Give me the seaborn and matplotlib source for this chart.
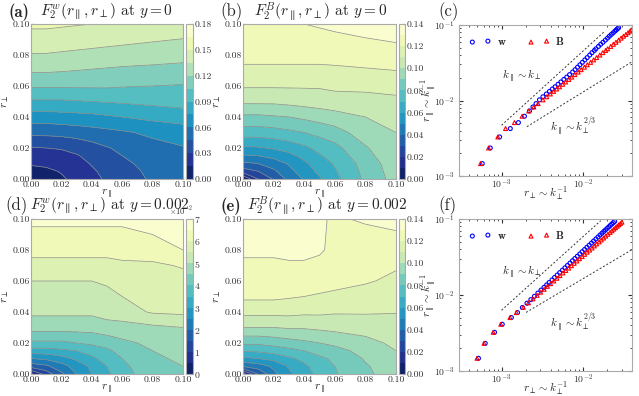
import numpy as np
import pandas as pd
import seaborn as sns
import matplotlib
matplotlib.use('Agg')
import matplotlib.pyplot as plt
from matplotlib.ticker import ScalarFormatter, FormatStrFormatter

r_par = [0.0, 0.01, 0.02, 0.03, 0.04, 0.05, 0.06, 0.08, 0.10]
r_perp = [0.0, 0.005, 0.01, 0.015, 0.02, 0.03, 0.04, 0.05, 0.06, 0.07, 0.08, 0.10]

# (a) F2^w at y=0  (rows = r_perp, cols = r_par)
F_w0 = [
    [0.003, 0.008, 0.013, 0.019, 0.026, 0.032, 0.038, 0.047, 0.052],
    [0.009, 0.012, 0.016, 0.022, 0.028, 0.034, 0.040, 0.048, 0.053],
    [0.017, 0.018, 0.021, 0.025, 0.031, 0.037, 0.042, 0.050, 0.055],
    [0.023, 0.024, 0.026, 0.029, 0.034, 0.040, 0.045, 0.052, 0.057],
    [0.029, 0.030, 0.031, 0.034, 0.039, 0.044, 0.048, 0.055, 0.059],
    [0.049, 0.049, 0.050, 0.052, 0.054, 0.056, 0.058, 0.063, 0.067],
    [0.068, 0.068, 0.069, 0.070, 0.071, 0.073, 0.075, 0.079, 0.082],
    [0.088, 0.088, 0.088, 0.089, 0.090, 0.091, 0.092, 0.094, 0.096],
    [0.107, 0.107, 0.107, 0.107, 0.107, 0.107, 0.106, 0.105, 0.104],
    [0.122, 0.122, 0.121, 0.120, 0.119, 0.118, 0.117, 0.116, 0.115],
    [0.134, 0.134, 0.133, 0.132, 0.131, 0.130, 0.129, 0.127, 0.125],
    [0.153, 0.153, 0.152, 0.151, 0.150, 0.149, 0.148, 0.146, 0.144],
]

# (b) F2^B at y=0
F_B0 = [
    [0.000, 0.020, 0.031, 0.043, 0.051, 0.059, 0.067, 0.082, 0.094],
    [0.025, 0.030, 0.038, 0.047, 0.055, 0.062, 0.069, 0.083, 0.095],
    [0.038, 0.040, 0.045, 0.051, 0.058, 0.065, 0.071, 0.084, 0.096],
    [0.049, 0.050, 0.053, 0.057, 0.063, 0.069, 0.074, 0.087, 0.097],
    [0.058, 0.059, 0.061, 0.064, 0.068, 0.073, 0.077, 0.089, 0.098],
    [0.075, 0.075, 0.076, 0.078, 0.080, 0.083, 0.086, 0.095, 0.100],
    [0.088, 0.088, 0.089, 0.090, 0.092, 0.094, 0.096, 0.100, 0.103],
    [0.102, 0.102, 0.102, 0.103, 0.104, 0.105, 0.106, 0.107, 0.108],
    [0.111, 0.111, 0.111, 0.111, 0.111, 0.111, 0.112, 0.112, 0.113],
    [0.118, 0.118, 0.118, 0.118, 0.118, 0.118, 0.118, 0.119, 0.120],
    [0.123, 0.123, 0.123, 0.123, 0.123, 0.123, 0.124, 0.125, 0.126],
    [0.128, 0.128, 0.129, 0.129, 0.130, 0.131, 0.132, 0.134, 0.136],
]

# (d) F2^w at y=0.002
F_w2 = [
    [0.004, 0.012, 0.019, 0.025, 0.030, 0.034, 0.038, 0.043, 0.045],
    [0.017, 0.019, 0.023, 0.027, 0.031, 0.035, 0.039, 0.043, 0.045],
    [0.025, 0.026, 0.028, 0.031, 0.034, 0.037, 0.040, 0.044, 0.046],
    [0.033, 0.033, 0.034, 0.035, 0.037, 0.039, 0.042, 0.045, 0.046],
    [0.039, 0.039, 0.039, 0.040, 0.041, 0.042, 0.044, 0.046, 0.047],
    [0.047, 0.047, 0.047, 0.047, 0.047, 0.048, 0.048, 0.049, 0.050],
    [0.051, 0.051, 0.051, 0.051, 0.051, 0.052, 0.053, 0.0555, 0.056],
    [0.053, 0.053, 0.053, 0.053, 0.053, 0.054, 0.055, 0.057, 0.057],
    [0.055, 0.055, 0.055, 0.055, 0.055, 0.0555, 0.056, 0.058, 0.058],
    [0.058, 0.058, 0.058, 0.058, 0.058, 0.058, 0.059, 0.059, 0.0605],
    [0.062, 0.062, 0.062, 0.062, 0.062, 0.062, 0.062, 0.063, 0.065],
    [0.066, 0.066, 0.066, 0.066, 0.066, 0.066, 0.066, 0.067, 0.068],
]

# (e) F2^B at y=0.002
F_B2 = [
    [0.005, 0.031, 0.047, 0.058, 0.066, 0.073, 0.079, 0.088, 0.095],
    [0.041, 0.045, 0.052, 0.061, 0.068, 0.075, 0.080, 0.089, 0.096],
    [0.058, 0.060, 0.063, 0.068, 0.073, 0.078, 0.082, 0.091, 0.098],
    [0.071, 0.072, 0.074, 0.077, 0.080, 0.084, 0.087, 0.093, 0.100],
    [0.082, 0.082, 0.084, 0.086, 0.088, 0.090, 0.092, 0.097, 0.102],
    [0.100, 0.100, 0.100, 0.101, 0.101, 0.102, 0.103, 0.104, 0.105],
    [0.113, 0.113, 0.113, 0.113, 0.112, 0.112, 0.111, 0.111, 0.1105],
    [0.122, 0.122, 0.122, 0.121, 0.120, 0.119, 0.118, 0.116, 0.114],
    [0.126, 0.126, 0.126, 0.126, 0.125, 0.124, 0.123, 0.121, 0.118],
    [0.129, 0.129, 0.129, 0.129, 0.129, 0.128, 0.126, 0.124, 0.121],
    [0.131, 0.131, 0.131, 0.132, 0.132, 0.131, 0.128, 0.125, 0.125],
    [0.134, 0.134, 0.134, 0.134, 0.133, 0.131, 0.129, 0.131, 0.133],
]

# (c) anisotropy r_par vs r_perp at y=0
c_w_rpar = [1.46e-3, 2.35e-3, 3.29e-3, 4.25e-3, 5.1e-3, 6.19e-3, 7.27e-3, 8.2e-3, 9.1e-3,
            1.02e-2, 1.12e-2, 1.22e-2, 1.32e-2, 1.42e-2, 1.52e-2, 1.64e-2, 1.76e-2, 1.9e-2,
            2.04e-2, 2.2e-2, 2.38e-2, 2.56e-2, 2.76e-2, 2.97e-2, 3.2e-2, 3.45e-2, 3.7e-2,
            4.0e-2, 4.3e-2, 4.6e-2, 4.84e-2, 5.2e-2, 5.55e-2, 5.9e-2, 6.3e-2, 6.7e-2, 7.1e-2,
            7.5e-2, 7.9e-2, 8.3e-2, 8.6e-2, 8.9e-2, 9.2e-2]
c_w_rperp = [5.79e-4, 7.27e-4, 9.46e-4, 1.28e-3, 1.61e-3, 1.91e-3, 2.2e-3, 2.43e-3, 2.65e-3,
             2.92e-3, 3.22e-3, 3.55e-3, 3.88e-3, 4.2e-3, 4.54e-3, 4.94e-3, 5.35e-3, 5.82e-3,
             6.31e-3, 6.84e-3, 7.46e-3, 8.0e-3, 8.57e-3, 9.18e-3, 9.82e-3, 1.055e-2, 1.125e-2,
             1.21e-2, 1.29e-2, 1.38e-2, 1.44e-2, 1.55e-2, 1.65e-2, 1.76e-2, 1.88e-2, 2.0e-2, 2.11e-2,
             2.23e-2, 2.35e-2, 2.47e-2, 2.56e-2, 2.65e-2, 2.74e-2]
c_B_rpar = [1.46e-3, 2.35e-3, 3.29e-3, 4.25e-3, 5.1e-3, 6.19e-3, 7.27e-3, 8.2e-3, 9.1e-3,
            1.02e-2, 1.12e-2, 1.22e-2, 1.32e-2, 1.42e-2, 1.52e-2, 1.64e-2, 1.76e-2, 1.9e-2,
            2.04e-2, 2.2e-2, 2.38e-2, 2.56e-2, 2.76e-2, 2.97e-2, 3.2e-2, 3.45e-2, 3.7e-2,
            4.0e-2, 4.3e-2, 4.6e-2, 4.84e-2, 5.2e-2, 5.55e-2, 5.9e-2, 6.3e-2, 6.7e-2, 7.1e-2,
            7.5e-2, 7.9e-2, 8.3e-2, 8.6e-2]
c_B_rperp = [5.53e-4, 6.93e-4, 9.0e-4, 1.12e-3, 1.44e-3, 1.79e-3, 2.16e-3, 2.49e-3, 2.81e-3,
             3.22e-3, 3.59e-3, 3.97e-3, 4.36e-3, 4.75e-3, 5.15e-3, 5.64e-3, 6.12e-3, 6.7e-3,
             7.28e-3, 7.94e-3, 8.73e-3, 9.5e-3, 1.04e-2, 1.13e-2, 1.24e-2, 1.35e-2, 1.47e-2,
             1.61e-2, 1.75e-2, 1.9e-2, 2.01e-2, 2.19e-2, 2.36e-2, 2.54e-2, 2.74e-2, 2.94e-2, 3.15e-2,
             3.37e-2, 3.58e-2, 3.79e-2, 3.95e-2]

# (f) anisotropy at y=0.002
f_w_rpar = [1.47e-3, 2.31e-3, 3.23e-3, 4.12e-3, 5.05e-3, 5.87e-3, 6.84e-3, 7.8e-3, 8.7e-3,
            9.6e-3, 1.06e-2, 1.16e-2, 1.26e-2, 1.36e-2, 1.46e-2, 1.58e-2, 1.7e-2, 1.83e-2,
            1.97e-2, 2.12e-2, 2.28e-2, 2.45e-2, 2.63e-2, 2.82e-2, 3.02e-2, 3.24e-2, 3.47e-2,
            3.71e-2, 3.97e-2, 4.24e-2, 4.52e-2, 4.82e-2, 5.13e-2, 5.46e-2, 5.8e-2, 6.15e-2,
            6.5e-2, 6.85e-2, 7.2e-2, 7.55e-2, 7.9e-2, 8.25e-2, 8.6e-2, 8.95e-2, 9.3e-2]
f_w_rperp = [5.2e-4, 6.3e-4, 8.2e-4, 1.02e-3, 1.32e-3, 1.57e-3, 1.8e-3, 2.05e-3, 2.29e-3,
             2.53e-3, 2.79e-3, 3.05e-3, 3.32e-3, 3.58e-3, 3.84e-3, 4.16e-3, 4.47e-3, 4.82e-3,
             5.18e-3, 5.58e-3, 6.0e-3, 6.45e-3, 6.92e-3, 7.42e-3, 7.95e-3, 8.53e-3, 9.13e-3,
             9.76e-3, 1.045e-2, 1.116e-2, 1.19e-2, 1.27e-2, 1.35e-2, 1.44e-2, 1.53e-2, 1.62e-2,
             1.71e-2, 1.8e-2, 1.89e-2, 1.99e-2, 2.08e-2, 2.17e-2, 2.26e-2, 2.36e-2, 2.45e-2]
f_B_rpar = [1.47e-3, 2.31e-3, 3.23e-3, 4.12e-3, 5.05e-3, 5.87e-3, 6.9e-3, 7.9e-3, 8.9e-3,
            9.9e-3, 1.09e-2, 1.19e-2, 1.3e-2, 1.41e-2, 1.53e-2, 1.66e-2, 1.8e-2, 1.95e-2,
            2.1e-2, 2.26e-2, 2.43e-2, 2.61e-2, 2.8e-2, 3.0e-2, 3.21e-2, 3.43e-2, 3.66e-2,
            3.9e-2, 4.15e-2, 4.42e-2, 4.7e-2, 5.0e-2, 5.3e-2, 5.62e-2, 5.95e-2, 6.3e-2,
            6.65e-2, 7.0e-2, 7.35e-2, 7.7e-2, 8.05e-2, 8.4e-2, 8.75e-2, 9.1e-2]
f_B_rperp = [5.0e-4, 6.1e-4, 7.9e-4, 9.8e-4, 1.27e-3, 1.52e-3, 1.85e-3, 2.14e-3, 2.43e-3,
             2.73e-3, 3.02e-3, 3.33e-3, 3.66e-3, 4.0e-3, 4.38e-3, 4.78e-3, 5.21e-3, 5.67e-3,
             6.15e-3, 6.67e-3, 7.21e-3, 7.8e-3, 8.41e-3, 9.06e-3, 9.77e-3, 1.047e-2, 1.122e-2,
             1.205e-2, 1.29e-2, 1.38e-2, 1.47e-2, 1.58e-2, 1.68e-2, 1.79e-2, 1.9e-2, 2.02e-2,
             2.15e-2, 2.27e-2, 2.39e-2, 2.51e-2, 2.64e-2, 2.76e-2, 2.89e-2, 3.01e-2]

# dashed reference slopes (end points)
c_iso_x, c_iso_y = [1.0e-3, 1.86e-2], [4.7e-3, 8.3e-2]
c_gs_x, c_gs_y = [2.05e-3, 4.0e-2], [4.5e-3, 3.26e-2]
f_iso_x, f_iso_y = [1.0e-3, 1.65e-2], [6.3e-3, 9.5e-2]
f_gs_x, f_gs_y = [2.0e-3, 4.0e-2], [5.9e-3, 3.95e-2]

sns.set_style('ticks', {'axes.edgecolor': '#aaaaaa', 'xtick.direction': 'in',
                        'ytick.direction': 'in', 'xtick.color': '#333333',
                        'ytick.color': '#333333'})
plt.rcParams['font.family'] = 'serif'
plt.rcParams['font.serif'] = ['cmr10', 'DejaVu Serif']
plt.rcParams['mathtext.fontset'] = 'cm'
plt.rcParams['axes.unicode_minus'] = False
plt.rcParams['axes.formatter.use_mathtext'] = True
plt.rcParams['font.size'] = 7

W, H = 639, 396
fig = plt.figure(figsize=(W / 100, H / 100), dpi=100)


def box(x0, y0, x1, y1):
    return [x0 / W, 1 - y1 / H, (x1 - x0) / W, (y1 - y0) / H]


def contour_panel(field, axbox, cbox, vmax, step, cticks, sci=False):
    ax = fig.add_axes(axbox)
    cax = fig.add_axes(cbox)
    levels = np.arange(0, vmax + step / 2, step)
    cf = ax.contourf(r_par, r_perp, field, levels=levels, cmap='YlGnBu_r')
    ax.contour(r_par, r_perp, field, levels=levels, colors='#8c8c8c', linewidths=0.5)
    ax.set_xlim(0, 0.1)
    ax.set_ylim(0, 0.1)
    ax.set_xticks(np.arange(0, 0.101, 0.02))
    ax.set_yticks(np.arange(0, 0.101, 0.02))
    ax.xaxis.set_major_formatter(FormatStrFormatter('%.2f'))
    ax.yaxis.set_major_formatter(FormatStrFormatter('%.2f'))
    ax.tick_params(labelsize=7, length=2, pad=1)
    ax.set_xlabel(r'$r_\parallel$', fontsize=8, labelpad=-1)
    ax.set_ylabel(r'$r_\perp$', fontsize=8, labelpad=1)
    cb = fig.colorbar(cf, cax=cax, ticks=cticks)
    cb.outline.set_edgecolor('#aaaaaa')
    cb.ax.tick_params(labelsize=7, length=2, pad=1, direction='in')
    if sci:
        fmt = ScalarFormatter(useMathText=True)
        fmt.set_powerlimits((0, 0))
        cb.formatter = fmt
        cb.update_ticks()
        cb.ax.yaxis.get_offset_text().set_fontsize(6)
    else:
        cb.formatter = FormatStrFormatter('%.2f')
        cb.update_ticks()
    return ax


contour_panel(F_w0, box(31, 24, 183, 179), box(186, 24, 193, 179), 0.18, 0.015,
              np.arange(0, 0.181, 0.03))
contour_panel(F_B0, box(243, 24, 396, 179), box(399, 24, 405, 179), 0.14, 0.01,
              np.arange(0, 0.141, 0.02))
contour_panel(F_w2, box(31, 219, 183, 374), box(186, 219, 193, 374), 0.07, 0.005,
              np.arange(0, 0.0701, 0.01), sci=True)
contour_panel(F_B2, box(243, 219, 396, 374), box(399, 219, 405, 374), 0.14, 0.01,
              np.arange(0, 0.141, 0.02))


def aniso_panel(axbox, wx, wy, bx, by, iso, gs, iso_txt_y, gs_txt_y):
    ax = fig.add_axes(axbox)
    dw = pd.DataFrame({'rperp': wx, 'rpar': wy})
    dB = pd.DataFrame({'rperp': bx, 'rpar': by})
    ax.plot(iso[0], iso[1], ls=(0, (2, 2)), color='#333333', lw=0.7)
    ax.plot(gs[0], gs[1], ls=(0, (2, 2)), color='#333333', lw=0.7)
    sns.scatterplot(data=dw, x='rperp', y='rpar', ax=ax, marker='o', s=8,
                    facecolor='none', edgecolor='blue', linewidth=0.8,
                    label=r'$\mathbf{w}$')
    sns.scatterplot(data=dB, x='rperp', y='rpar', ax=ax, marker='^', s=8,
                    facecolor='none', edgecolor='red', linewidth=0.8,
                    label=r'$\mathbf{B}$')
    ax.set_xscale('log')
    ax.set_yscale('log')
    ax.set_xlim(3e-4, 4e-2)
    ax.set_ylim(1e-3, 1e-1)
    ax.tick_params(which='both', labelsize=7, top=True, right=True)
    ax.tick_params(axis='x', which='both', pad=1)
    ax.tick_params(which='major', length=3)
    ax.tick_params(which='minor', length=1.5)
    ax.set_xlabel(r'$r_\perp \sim k_\perp^{-1}$', fontsize=8, labelpad=-5)
    ax.set_ylabel(r'$r_\parallel \sim k_\parallel^{-1}$', fontsize=8, labelpad=-4)
    ax.text(1.0e-3, iso_txt_y, r'$k_\parallel \sim k_\perp$', fontsize=8, va='center')
    ax.text(3.9e-3, gs_txt_y, r'$k_\parallel \sim k_\perp^{2/3}$', fontsize=8, va='center')
    ax.legend(loc='upper left', ncol=2, frameon=False, scatterpoints=2, fontsize=8,
              handletextpad=0.5, columnspacing=1.9, borderaxespad=0.5, handlelength=2.0)
    return ax


aniso_panel(box(459, 25, 632, 176), c_w_rperp, c_w_rpar, c_B_rperp, c_B_rpar,
            (c_iso_x, c_iso_y), (c_gs_x, c_gs_y), 2.12e-2, 4.47e-3)
aniso_panel(box(459, 219, 632, 371), f_w_rperp, f_w_rpar, f_B_rperp, f_B_rpar,
            (f_iso_x, f_iso_y), (f_gs_x, f_gs_y), 1.97e-2, 4.25e-3)

# panel letters and titles
labels = [(8, 12, '(a)', True), (220, 12, '(b)', False), (438, 12, '(c)', False),
          (5, 206, '(d)', False), (221, 206, '(e)', True), (438, 206, '(f)', False)]
for x, y, s, bold in labels:
    fig.text(x / W, 1 - y / H, s, fontsize=12, va='center',
             family='cmb10' if bold else 'cmr10')
titles = [(40, 12, r'$F_2^w(r_\parallel, r_\perp)$ at $y=0$'),
          (254, 12, r'$F_2^B(r_\parallel, r_\perp)$ at $y=0$'),
          (30, 206, r'$F_2^w(r_\parallel, r_\perp)$ at $y=0.002$'),
          (247, 206, r'$F_2^B(r_\parallel, r_\perp)$ at $y=0.002$')]
for x, y, s in titles:
    fig.text(x / W, 1 - y / H, s, fontsize=11, va='center')

fig.savefig('out.png', dpi=100)
